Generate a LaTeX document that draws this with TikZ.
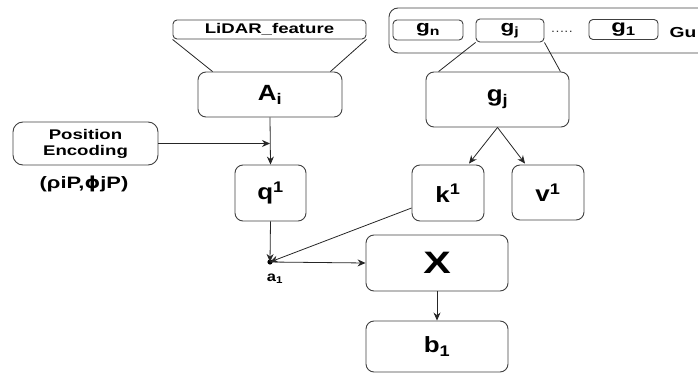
\documentclass[tikz,border=0pt]{standalone}
\usepackage{fontspec}
\setmainfont{Liberation Sans}[FakeStretch=1.33]
\newfontfamily\labelfont{Liberation Sans}[FakeStretch=1.18]
\newfontfamily\symfont{DejaVu Sans}[FakeStretch=1.2]
\usetikzlibrary{arrows.meta,calc}
% sub/superscripts in the text font
\newcommand{\lsub}[1]{\textsubscript{#1}}
\newcommand{\lsup}[1]{\textsuperscript{#1}}
\tikzset{
  box/.style={draw=black!75, line width=0.9pt, rounded corners=8pt, align=center,
    inner sep=0pt, font=\bfseries},
  tag/.style={draw=black!75, line width=0.9pt, rounded corners=4pt, inner sep=0pt,
    font=\bfseries},
  link/.style={draw=black!85, line width=0.8pt},
  arr/.style={link, -{Stealth[length=8pt,width=7pt]}},
  lbl/.style={inner sep=0pt, font=\bfseries},
  big/.style={font=\labelfont\bfseries\fontsize{22}{23}\selectfont},
}
\begin{document}
\begin{tikzpicture}[x=1pt,y=-1pt]
\useasboundingbox (0,0) rectangle (698,374);

% LiDAR feature branch
\node[tag, minimum width=193pt, minimum height=19pt, font=\bfseries\fontsize{14}{15}\selectfont]
  (lidar) at (269.5,29.5) {LiDAR\_feature};
\node[box, big, minimum width=144pt, minimum height=45pt] (A) at (270,94.5) {A\lsub{i}};
\draw[link] (lidar.south west) -- ($(A.north west)+(15,0)$);
\draw[link] (lidar.south east) -- ($(A.north east)+(-12,0)$);

% group of g blocks
\node[box, rounded corners=9pt, minimum width=323pt, minimum height=45pt] (gu) at (550.5,30.5) {};
\node[tag, minimum width=70pt, minimum height=20pt, font=\bfseries\fontsize{17}{18}\selectfont]
  (gn) at (428,30) {g\lsub{n}};
\node[tag, minimum width=68pt, minimum height=23pt, font=\bfseries\fontsize{17}{18}\selectfont]
  (gjs) at (510,30.5) {g\lsub{j}};
\node[lbl, font=\fontsize{10}{10}\selectfont] (dots) at (562,33) {·····};
\node[tag, minimum width=69pt, minimum height=20pt, font=\bfseries\fontsize{18}{18}\selectfont]
  (g1) at (623.5,29.5) {g\lsub{1}};
\node[lbl, font=\bfseries\fontsize{14.5}{15}\selectfont] (gutxt) at (683,33) {Gu};

\node[box, big, minimum width=143pt, minimum height=55pt] (gj) at (497.5,99.5) {g\lsub{j}};
\draw[link] (gjs.south west) -- ($(gj.north west)+(13,0)$);
\draw[link] (gjs.south east) -- ($(gj.north east)+(-9,0)$);

% position encoding
\node[box, rounded corners=10pt, minimum width=145pt, minimum height=43pt,
  font=\bfseries\fontsize{14}{16}\selectfont] (pe) at (85.5,143.5) {Position\\Encoding};
\node[lbl, font=\bfseries\fontsize{16.5}{17}\selectfont] (pec) at (84,184)
  {(ρiP,{\symfont\bfseries ϕ}jP)};

% query, key, value
\node[box, big, minimum width=71pt, minimum height=56pt] (q) at (270.5,193) {q\lsup{1}};
\node[box, big, minimum width=72pt, minimum height=56pt] (k) at (448,193) {k\lsup{1}};
\node[box, big, minimum width=72pt, minimum height=55pt] (v) at (548,192.5) {v\lsup{1}};

\draw[arr] (A.south) -- (q.north);
\coordinate (pej) at (A.south |- pe.east);
\draw[arr] (pe.east) -- (pej);
\draw[arr] (gj.south) -- ($(k.north)+(21,-1)$);
\draw[arr] (gj.south) -- ($(v.north)+(-23,-1)$);

% attention score and product
\coordinate (a1) at (270,262);
\fill[black] (a1) circle (2.6pt);
\node[lbl, font=\labelfont\bfseries\fontsize{14}{14}\selectfont] (a1txt) at (275,279) {a\lsub{1}};

\node[box, minimum width=142pt, minimum height=56pt, font=\bfseries\fontsize{31}{31}\selectfont]
  (X) at (437,263) {X};
\node[box, big, minimum width=142pt, minimum height=51pt] (b) at (437,346.5) {b\lsub{1}};

\draw[arr] (q.south) -- (a1);
\draw[arr] ($(k.west)+(0,15)$) -- (a1);
\draw[arr] (a1) -- (X.west);
\draw[arr] (X.south) -- (b.north);
\end{tikzpicture}
\end{document}
